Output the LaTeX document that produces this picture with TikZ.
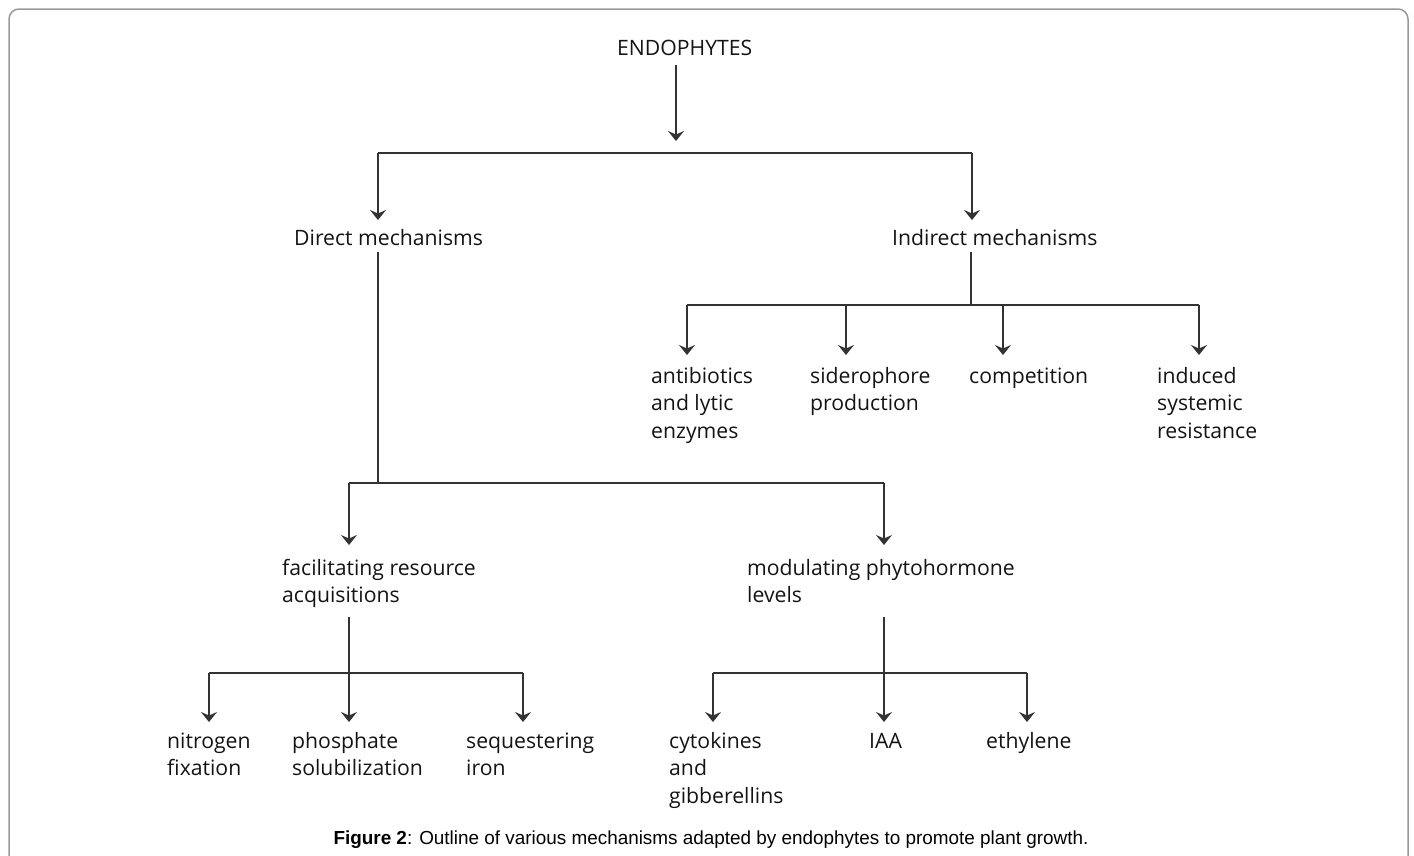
\documentclass[tikz,border=0pt]{standalone}
\usepackage{fontspec}
\setmainfont{Open Sans}
\newfontfamily\capfont{Liberation Sans}
\usetikzlibrary{arrows.meta}
\begin{document}
\begin{tikzpicture}[x=1pt,y=-1pt,
  lbl/.style={anchor=base west, inner sep=0pt, align=left,
    font=\fontsize{21.2}{27.5}\selectfont, text=black!92},
  ln/.style={line width=1.5pt, draw=black!80},
  arr/.style={ln, -{Stealth[length=10pt,width=16pt,inset=3.5pt]}}]
\useasboundingbox (0,0) rectangle (1414,855);
\draw[black!40, line width=1.5pt, rounded corners=10pt]
  (9,860) -- (9,9) -- (1408,9) -- (1408,860);

% nodes (anchor = baseline of last line)
\node[lbl] (endo) at (617,55) {ENDOPHYTES};
\node[lbl] (direct) at (294,245) {Direct mechanisms};
\node[lbl] (indirect) at (892,245) {Indirect mechanisms};
\node[lbl] (anti) at (651,438) {antibiotics\\and lytic\\enzymes};
\node[lbl] (sidero) at (810,410.5) {siderophore\\production};
\node[lbl] (comp) at (969,383) {competition};
\node[lbl] (isr) at (1157,438) {induced\\systemic\\resistance};
\node[lbl] (facil) at (282,602.5) {facilitating resource\\acquisitions};
\node[lbl] (modul) at (747,602.5) {modulating phytohormone\\levels};
\node[lbl] (nitro) at (167,775.5) {nitrogen\\fixation};
\node[lbl] (phos) at (292,775.5) {phosphate\\solubilization};
\node[lbl] (seq) at (466,775.5) {sequestering\\iron};
\node[lbl] (cyto) at (669,803) {cytokines\\and\\gibberellins};
\node[lbl] (iaa) at (869,748) {IAA};
\node[lbl] (eth) at (986,748) {ethylene};
\node[anchor=base, inner sep=0pt, font=\capfont\fontsize{18.9}{22}\selectfont] (cap) at (711,844)
  {\textbf{Figure 2}: Outline of various mechanisms adapted by endophytes to promote plant growth.};

% junction coordinates
\coordinate (e0) at (676,65);
\coordinate (e1) at (676,141);
\coordinate (d1) at (378,153);
\coordinate (i1) at (972,153);
\coordinate (dt) at (378,220);
\coordinate (it) at (972,220);

\coordinate (i2) at (971,252);
\coordinate (i3) at (971,305);
\coordinate (ib1) at (687,305);
\coordinate (ib2) at (846,305);
\coordinate (ib3) at (1003,305);
\coordinate (ib4) at (1199,305);

\coordinate (d2) at (378,252);
\coordinate (d3) at (378,483);
\coordinate (db1) at (349,483);
\coordinate (db2) at (884,483);

\coordinate (f2) at (349,617);
\coordinate (f3) at (349,673);
\coordinate (fb1) at (209,673);
\coordinate (fb3) at (523,673);

\coordinate (m2) at (884,617);
\coordinate (m3) at (884,673);
\coordinate (mb1) at (713,673);
\coordinate (mb3) at (1027,673);

% connectors
\draw[arr] (e0) -- (e1);
\draw[ln] (d1) -- (i1);
\draw[arr] (d1) -- (dt);
\draw[arr] (i1) -- (it);

\draw[ln] (i2) -- (i3);
\draw[ln] (ib1) -- (ib4);
\draw[arr] (ib1) -- (687,355);
\draw[arr] (ib2) -- (846,355);
\draw[arr] (ib3) -- (1003,355);
\draw[arr] (ib4) -- (1199,355);

\draw[ln] (d2) -- (d3);
\draw[ln] (db1) -- (db2);
\draw[arr] (db1) -- (349,545);
\draw[arr] (db2) -- (884,545);

\draw[ln] (f2) -- (f3);
\draw[ln] (fb1) -- (fb3);
\draw[arr] (fb1) -- (209,722);
\draw[arr] (f3) -- (349,722);
\draw[arr] (fb3) -- (523,722);

\draw[ln] (m2) -- (m3);
\draw[ln] (mb1) -- (mb3);
\draw[arr] (mb1) -- (713,722);
\draw[arr] (m3) -- (884,722);
\draw[arr] (mb3) -- (1027,722);
\end{tikzpicture}
\end{document}
